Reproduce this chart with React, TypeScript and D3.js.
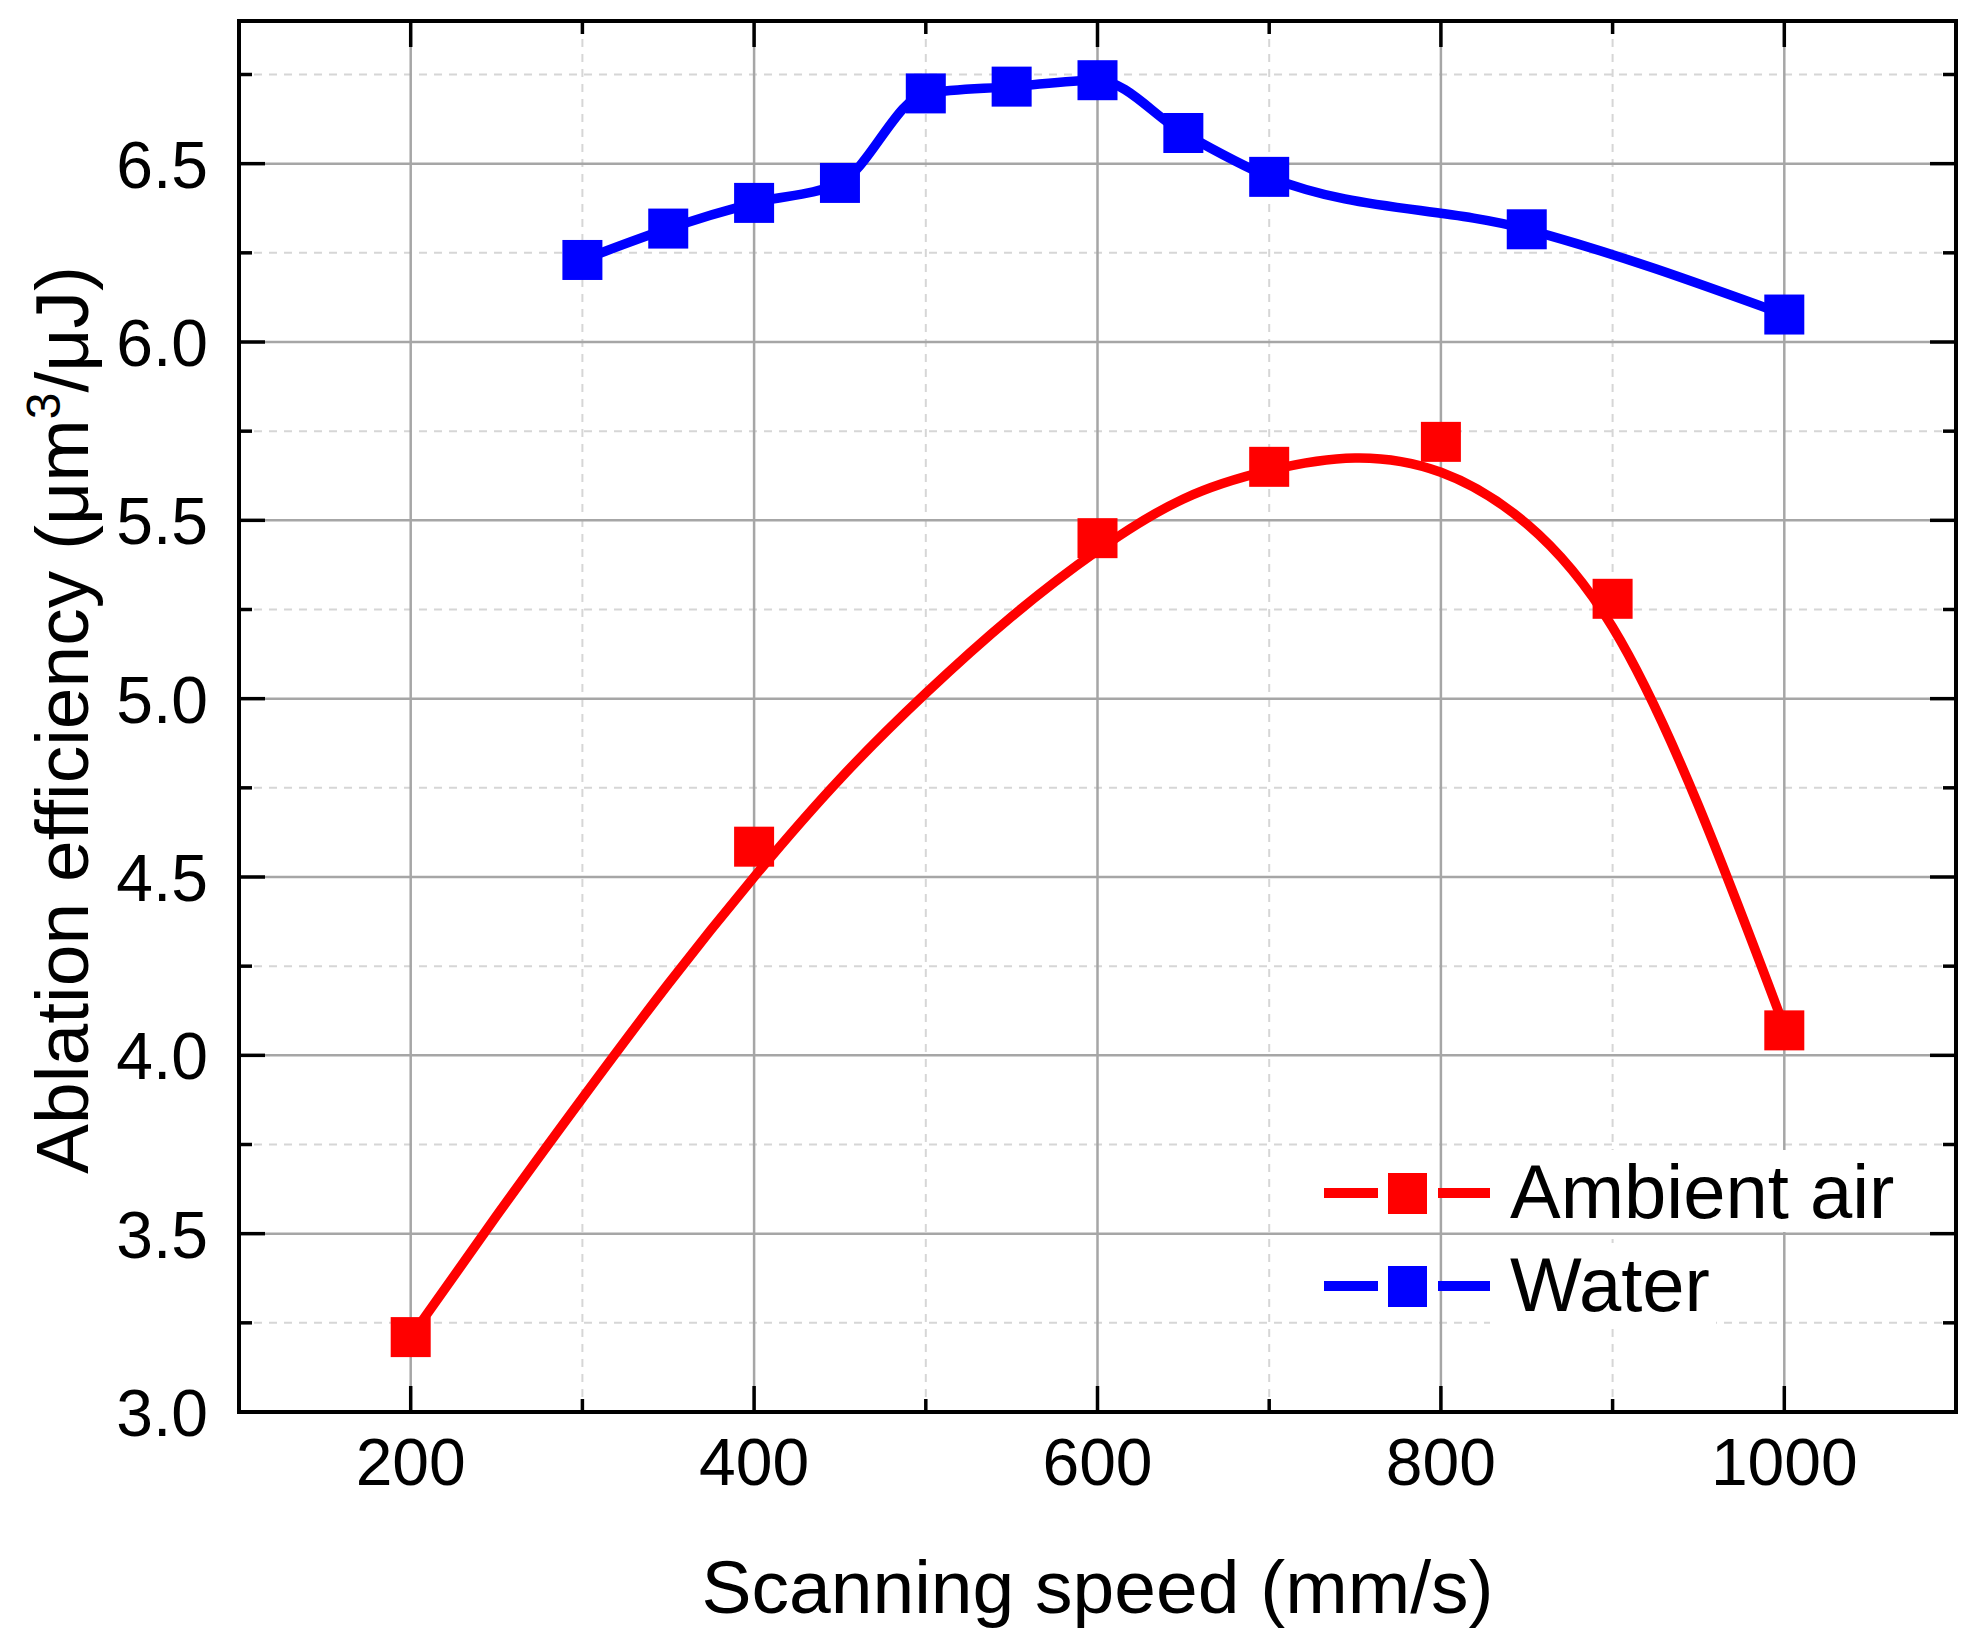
import React, { useRef, useEffect } from 'react';
import * as d3 from 'd3';

// values
const speedTicks = [200, 400, 600, 800, 1000];
const speedMinor = [100, 300, 500, 700, 900, 1100];
const effTicks = [3.0, 3.5, 4.0, 4.5, 5.0, 5.5, 6.0, 6.5];
const effMinor = [3.25, 3.75, 4.25, 4.75, 5.25, 5.75, 6.25, 6.75];

const airSpeed = [200, 400, 600, 700, 800, 900, 1000];
const airEff = [3.21, 4.585, 5.45, 5.65, 5.72, 5.28, 4.07];

// smooth fitted curve through the ambient air data
const airFitSpeed = [200, 250, 300, 350, 400, 450, 500, 550, 600, 650, 700, 750, 800, 850, 900, 950, 1000];
const airFitEff = [3.21, 3.55, 3.88, 4.2, 4.5, 4.775, 5.015, 5.23, 5.415, 5.56, 5.64, 5.675, 5.635, 5.49, 5.2, 4.7, 4.08];

const waterSpeed = [300, 350, 400, 450, 500, 550, 600, 650, 700, 850, 1000];
const waterEff = [6.23, 6.318, 6.39, 6.446, 6.697, 6.716, 6.734, 6.586, 6.463, 6.316, 6.077];

const seriesNames = ['Ambient air', 'Water'];
const seriesColors = ['#ff0000', '#0000ff'];

const W = 1980;
const H = 1643;
const FONT = '"Liberation Sans", Arial, sans-serif';

const Chart: React.FC = () => {
    const svgRef = useRef<SVGSVGElement | null>(null);

    useEffect(() => {
        if (!svgRef.current) return;
        const svg = d3.select(svgRef.current);
        svg.selectAll('*').remove();

        const margin = { top: 21, right: W - 1956, bottom: H - 1412, left: 239 };
        const x = d3.scaleLinear().domain([100, 1100]).range([margin.left, W - margin.right]);
        const y = d3.scaleLinear().domain([3.0, 6.9]).range([H - margin.bottom, margin.top]);
        const [x0, x1] = x.range();
        const [y0, y1] = y.range();

        svg.append('rect').attr('width', W).attr('height', H).attr('fill', '#fff');

        // grid
        const grid = svg.append('g');
        grid.selectAll('line.minx').data(speedMinor).join('line')
            .attr('x1', d => x(d)).attr('x2', d => x(d)).attr('y1', y0).attr('y2', y1)
            .attr('stroke', '#d6d6d6').attr('stroke-width', 2).attr('stroke-dasharray', '8,7');
        grid.selectAll('line.miny').data(effMinor).join('line')
            .attr('y1', d => y(d)).attr('y2', d => y(d)).attr('x1', x0).attr('x2', x1)
            .attr('stroke', '#d6d6d6').attr('stroke-width', 2).attr('stroke-dasharray', '8,7');
        grid.selectAll('line.majx').data(speedTicks).join('line')
            .attr('x1', d => x(d)).attr('x2', d => x(d)).attr('y1', y0).attr('y2', y1)
            .attr('stroke', '#a6a6a6').attr('stroke-width', 2.5);
        grid.selectAll('line.majy').data(effTicks.slice(1)).join('line')
            .attr('y1', d => y(d)).attr('y2', d => y(d)).attr('x1', x0).attr('x2', x1)
            .attr('stroke', '#a6a6a6').attr('stroke-width', 2.5);

        // lines
        const fitLine = d3.line<[number, number]>()
            .x(d => x(d[0]))
            .y(d => y(d[1]))
            .curve(d3.curveNatural);
        const dataLine = d3.line<[number, number]>()
            .x(d => x(d[0]))
            .y(d => y(d[1]))
            .curve(d3.curveMonotoneX);

        const airFit = airFitSpeed.map((s, i) => [s, airFitEff[i]] as [number, number]);
        const water = waterSpeed.map((s, i) => [s, waterEff[i]] as [number, number]);
        const air = airSpeed.map((s, i) => [s, airEff[i]] as [number, number]);

        svg.append('path').attr('d', fitLine(airFit)).attr('fill', 'none')
            .attr('stroke', seriesColors[0]).attr('stroke-width', 9.5);
        svg.append('path').attr('d', dataLine(water)).attr('fill', 'none')
            .attr('stroke', seriesColors[1]).attr('stroke-width', 9.5).attr('stroke-linejoin', 'round');

        const ms = 40;
        svg.append('g').selectAll('rect').data(air).join('rect')
            .attr('x', d => x(d[0]) - ms / 2).attr('y', d => y(d[1]) - ms / 2)
            .attr('width', ms).attr('height', ms).attr('fill', seriesColors[0]);
        svg.append('g').selectAll('rect').data(water).join('rect')
            .attr('x', d => x(d[0]) - ms / 2).attr('y', d => y(d[1]) - ms / 2)
            .attr('width', ms).attr('height', ms).attr('fill', seriesColors[1]);

        // legend
        const legend = svg.append('g');
        const boxW = [410, 226];
        seriesNames.forEach((name, i) => {
            const cy = 1193 + i * 93;
            legend.append('rect').attr('x', 1490).attr('y', cy - 43).attr('width', boxW[i]).attr('height', 82)
                .attr('fill', '#fff');
            legend.append('line').attr('x1', 1324).attr('x2', 1378).attr('y1', cy).attr('y2', cy)
                .attr('stroke', seriesColors[i]).attr('stroke-width', 10);
            legend.append('line').attr('x1', 1438).attr('x2', 1490).attr('y1', cy).attr('y2', cy)
                .attr('stroke', seriesColors[i]).attr('stroke-width', 10);
            legend.append('rect').attr('x', 1388).attr('y', cy - 20).attr('width', 39).attr('height', 41)
                .attr('fill', seriesColors[i]);
            legend.append('text').attr('x', 1510).attr('y', cy + 25).text(name)
                .attr('font-family', FONT).attr('font-size', 76).attr('fill', '#000');
        });

        // ticks, all four sides, pointing inward
        const tk = svg.append('g').attr('stroke', '#000').attr('stroke-width', 3.5);
        speedTicks.forEach(v => {
            tk.append('line').attr('x1', x(v)).attr('x2', x(v)).attr('y1', y0).attr('y2', y0 - 26);
            tk.append('line').attr('x1', x(v)).attr('x2', x(v)).attr('y1', y1).attr('y2', y1 + 26);
        });
        speedMinor.forEach(v => {
            tk.append('line').attr('x1', x(v)).attr('x2', x(v)).attr('y1', y0).attr('y2', y0 - 13);
            tk.append('line').attr('x1', x(v)).attr('x2', x(v)).attr('y1', y1).attr('y2', y1 + 13);
        });
        effTicks.forEach(v => {
            tk.append('line').attr('y1', y(v)).attr('y2', y(v)).attr('x1', x0).attr('x2', x0 + 26);
            tk.append('line').attr('y1', y(v)).attr('y2', y(v)).attr('x1', x1).attr('x2', x1 - 26);
        });
        effMinor.forEach(v => {
            tk.append('line').attr('y1', y(v)).attr('y2', y(v)).attr('x1', x0).attr('x2', x0 + 13);
            tk.append('line').attr('y1', y(v)).attr('y2', y(v)).attr('x1', x1).attr('x2', x1 - 13);
        });

        svg.append('rect').attr('x', x0).attr('y', y1).attr('width', x1 - x0).attr('height', y0 - y1)
            .attr('fill', 'none').attr('stroke', '#000').attr('stroke-width', 4);

        // tick labels
        svg.append('g').selectAll('text').data(speedTicks).join('text')
            .attr('x', d => x(d)).attr('y', 1485).attr('text-anchor', 'middle')
            .attr('font-family', FONT).attr('font-size', 66).text(d => d3.format('d')(d));
        svg.append('g').selectAll('text').data(effTicks).join('text')
            .attr('x', 208).attr('y', d => y(d) + 24).attr('text-anchor', 'end')
            .attr('font-family', FONT).attr('font-size', 66).text(d => d3.format('.1f')(d));

        // axis titles
        svg.append('text').attr('x', (x0 + x1) / 2).attr('y', 1613).attr('text-anchor', 'middle')
            .attr('font-family', FONT).attr('font-size', 75).text('Scanning speed (mm/s)');

        const yt = svg.append('text').attr('transform', 'translate(88,720) rotate(-90)')
            .attr('text-anchor', 'middle').attr('font-family', FONT).attr('font-size', 75);
        yt.append('tspan').text('Ablation efficiency (μm');
        yt.append('tspan').attr('dy', -28).attr('font-size', 48).text('3');
        yt.append('tspan').attr('dy', 28).text('/μJ)');
    }, []);

    return <svg ref={svgRef} width={W} height={H} style={{ position: 'absolute', left: 0, top: 0, display: 'block' }} />;
};

export default function App() {
    return <Chart />;
}
